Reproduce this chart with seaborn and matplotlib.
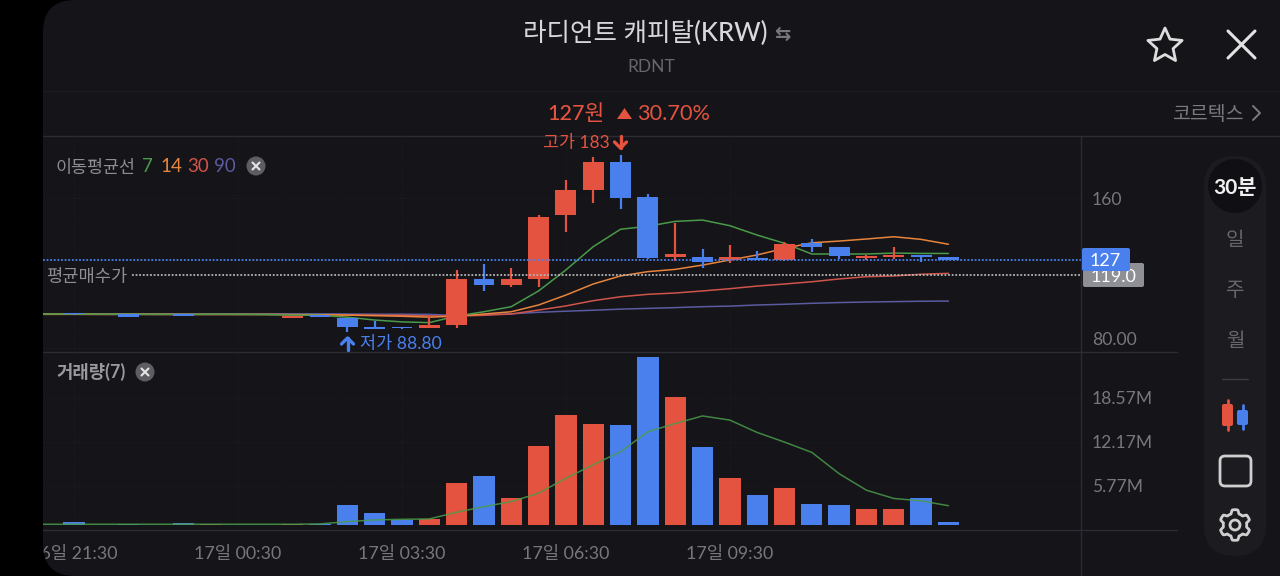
#RDNT 30 min candle chart with moving averages and volume

import numpy as np
import pandas as pd
import seaborn as sns
import matplotlib.pyplot as plt
from matplotlib.patches import Circle, FancyBboxPatch, PathPatch, Polygon
from matplotlib.path import Path

# 30 min bars, bar_no 0 = 16일 21:30, first two sit at the cut off left edge
bar_no = list(range(-2, 33))

opens = [98.2, 98.2, 98.6, 98.1, 98.2, 98.1, 98.3, 98.1, 98.0, 98.0, 96.3, 97.5,
         96.2, 91.1, 91.3, 90.6, 92.3, 116.7, 113.5, 116.7, 151.2, 164.3, 179.4,
         160.4, 128.6, 128.8, 127.0, 128.0, 127.0, 135.9, 133.8, 128.2, 128.8, 129.8, 128.8]
closes = [98.1, 98.1, 98.0, 98.2, 96.8, 98.2, 97.0, 98.3, 98.1, 98.1, 97.0, 96.7,
          91.4, 90.0, 90.5, 92.2, 116.7, 113.5, 116.7, 150.1, 164.3, 179.4, 160.2,
          127.9, 130.0, 125.9, 128.8, 127.0, 135.5, 134.0, 129.0, 129.1, 129.8, 128.8, 126.8]
highs = [98.3, 98.3, 98.7, 98.3, 98.3, 98.3, 98.4, 98.4, 98.2, 98.2, 97.2, 97.6,
         96.3, 94.6, 91.5, 96.8, 121.7, 124.7, 122.9, 151.0, 169.7, 182.0, 183.0,
         162.2, 146.6, 132.9, 135.0, 132.0, 136.8, 138.0, 133.8, 129.7, 134.0, 129.8, 128.8]
lows = [98.0, 98.0, 97.9, 98.0, 96.7, 98.0, 96.9, 98.0, 98.0, 98.0, 96.1, 96.6,
        88.8, 90.0, 90.2, 90.6, 90.6, 110.6, 112.4, 112.8, 142.1, 157.2, 154.4,
        127.5, 126.5, 122.6, 125.2, 126.8, 126.5, 131.4, 127.7, 127.0, 127.7, 125.9, 126.8]

ma7 = [98.2, 98.2, 98.2, 98.1, 98.1, 98.0, 98.0, 98.1, 98.0, 97.9, 97.6, 97.5,
       96.5, 95.0, 94.0, 93.6, 97.1, 99.4, 102.1, 110.5, 121.7, 134.1, 143.4,
       145.0, 147.6, 148.3, 145.3, 140.3, 135.9, 130.2, 130.2, 130.2, 130.7, 130.5, 130.5]
ma14 = [98.2, 98.2, 98.2, 98.1, 98.1, 98.1, 98.0, 98.0, 98.0, 98.0, 97.9, 97.8,
        97.6, 97.3, 97.0, 96.5, 97.1, 98.2, 99.4, 103.0, 108.3, 114.2, 118.5,
        120.8, 122.0, 124.3, 127.0, 129.7, 133.2, 136.2, 137.1, 138.2, 139.4, 138.0, 135.4]
ma30 = [98.0, 98.0, 98.0, 97.9, 97.9, 97.9, 97.9, 97.9, 97.9, 97.9, 97.8, 97.8,
        97.7, 97.6, 97.5, 97.2, 97.1, 97.5, 98.2, 100.3, 102.5, 105.3, 107.4,
        108.7, 109.4, 110.5, 111.7, 113.1, 114.2, 115.4, 116.9, 118.1, 118.5, 119.4, 119.9]
ma90 = [98.3, 98.3, 98.3, 98.3, 98.3, 98.3, 98.3, 98.3, 98.3, 98.3, 98.3, 98.3,
        98.2, 98.1, 98.1, 98.0, 97.4, 97.9, 98.3, 99.1, 99.7, 100.2, 100.8,
        101.2, 101.6, 102.1, 102.4, 103.0, 103.4, 103.9, 104.3, 104.6, 104.8, 105.0, 105.1]

volume = [0.1, 0.1, 0.48, 0.1, 0.12, 0.1, 0.3, 0.12, 0.1, 0.1, 0.15, 0.12,
          2.9, 1.85, 0.78, 0.97, 6.1, 7.2, 4.0, 11.5, 16.05, 14.7, 14.6,
          24.5, 18.6, 11.4, 6.9, 4.4, 5.4, 3.15, 2.95, 2.3, 2.3, 4.0, 0.44]
volume_ma = [0.15, 0.15, 0.15, 0.15, 0.15, 0.15, 0.15, 0.15, 0.15, 0.15, 0.15, 0.2,
             0.53, 0.78, 0.87, 0.92, 1.9, 2.7, 3.45, 4.65, 6.85, 8.8, 10.7,
             13.6, 14.8, 15.9, 15.3, 13.5, 12.1, 10.6, 7.5, 5.1, 3.9, 3.55, 2.85]

time_ticks = [0, 6, 12, 18, 24]
time_labels = ['16일 21:30', '17일 00:30', '17일 03:30', '17일 06:30', '17일 09:30']
price_ticks = [80, 160]
price_labels = ['80.00', '160']
volume_ticks = [5.77, 12.17, 18.57]
volume_labels = ['5.77M', '12.17M', '18.57M']
current_price = 127
average_buy = 119

BG = '#141419'
RED = '#E4533F'
BLUE = '#4A80EE'
GREEN = '#4A9A4A'
ORANGE = '#E8843C'
LINE_RED = '#D0544A'
PURPLE = '#5A5BA0'
EDGE = '#2C2C33'
GRAY = '#77777C'

sns.set_theme(style='dark')
plt.rcParams['font.family'] = ['Lato', 'Noto Sans CJK KR', 'DejaVu Sans']

df = pd.DataFrame({'bar': bar_no, 'open': opens, 'close': closes, 'high': highs, 'low': lows,
                   'volume': volume, 'volume_ma': volume_ma})
# the picture colours rising bars red and falling bars blue
df['side'] = np.where(df['close'] >= df['open'], 'up', 'down')
side_colors = {'up': RED, 'down': BLUE}
ma_df = pd.DataFrame({'bar': bar_no, '90': ma90, '30': ma30, '14': ma14, '7': ma7}).melt('bar', var_name='ma', value_name='price')

W, H = 1280, 576
fig = plt.figure(figsize=(W / 100, H / 100), dpi=100, facecolor=BG)


def px_axes(x0, y0, x1, y1):
    return fig.add_axes([x0 / W, 1 - y1 / H, (x1 - x0) / W, (y1 - y0) / H])


ax = px_axes(43, 136, 1081, 351)
vax = px_axes(43, 352, 1081, 529)
xlim = (-1.134, 36.85)

# price panel
sns.lineplot(data=ma_df, x='bar', y='price', hue='ma', palette={'7': GREEN, '14': ORANGE, '30': LINE_RED, '90': PURPLE},
             hue_order=['90', '30', '14', '7'], errorbar=None, linewidth=1.1, legend=False, ax=ax, zorder=2)
ax.vlines(df['bar'], df['low'], df['high'], colors=df['side'].map(side_colors), linewidth=1.6, zorder=3)
ax.bar(df['bar'], df['close'] - df['open'], bottom=df['open'], width=0.76, color=df['side'].map(side_colors), linewidth=0, zorder=3)
ax.hlines(current_price, xlim[0], xlim[1], colors=BLUE, linewidth=1.3, linestyles=(0, (1, 1)), zorder=4)
ax.hlines(average_buy, 2.12, xlim[1], colors='#B5B5B5', linewidth=1.3, linestyles=(0, (1, 1)), zorder=4)
ax.set_xlim(xlim)
ax.set_ylim(78.47, 193.13)
ax.set_xticks(time_ticks)
ax.set_xticklabels([])
ax.set_yticks(price_ticks)
ax.set_yticklabels(price_labels)
ax.yaxis.tick_right()
ax.get_yticklabels()[0].set_va('bottom')

# volume panel
sns.barplot(data=df, x='bar', y='volume', hue='side', palette=side_colors, native_scale=True, dodge=False,
            width=0.78, saturation=1, errorbar=None, legend=False, linewidth=0, ax=vax, zorder=2)
sns.lineplot(data=df, x='bar', y='volume_ma', color=GREEN, linewidth=1.1, alpha=0.85, errorbar=None, ax=vax, zorder=3)
vax.set_xlim(xlim)
vax.set_ylim(-0.54, 25.2)
vax.set_xticks(time_ticks)
vax.set_xticklabels(time_labels)
vax.set_yticks(volume_ticks)
vax.set_yticklabels(volume_labels)
vax.yaxis.tick_right()

for a in (ax, vax):
    a.set_facecolor(BG)
    a.set_xlabel('')
    a.set_ylabel('')
    a.grid(True, color='#1D1D22', linestyle=':', linewidth=0.8, zorder=0)
    a.set_axisbelow(True)
    for s in a.spines.values():
        s.set_visible(False)
    a.tick_params(axis='y', length=0, pad=8, labelsize=12.6, labelcolor=GRAY)
    a.tick_params(axis='x', length=0, pad=12, labelsize=12.8, labelcolor=GRAY)

# everything around the chart is drawn in screen pixels on one top layer
ui = fig.add_axes([0, 0, 1, 1], facecolor='none', zorder=10)
ui.set_xlim(0, W)
ui.set_ylim(H, 0)
ui.axis('off')

# black strip and rounded screen corners on the left
r = 32
verts = [(0, 0), (43 + r, 0), (43, 0), (43, r), (43, H - r), (43, H), (43 + r, H), (0, H), (0, 0)]
codes = [Path.MOVETO, Path.LINETO, Path.CURVE3, Path.CURVE3, Path.LINETO, Path.CURVE3, Path.CURVE3, Path.LINETO, Path.CLOSEPOLY]
ui.add_patch(PathPatch(Path(verts, codes), facecolor='black', edgecolor='none', zorder=6))

# separators
ui.plot([43, W], [91, 91], color='#1B1B20', lw=1)
ui.plot([43, W], [135.5, 135.5], color=EDGE, lw=1)
ui.plot([43, 1177], [351.5, 351.5], color=EDGE, lw=1)
ui.plot([43, 1177], [529.5, 529.5], color=EDGE, lw=1)
ui.plot([1081, 1081], [136, H], color=EDGE, lw=1)

# header
ui.text(645.5, 33, '라디언트 캐피탈(KRW)', color='#D8D8DA', fontsize=18.4, ha='center', va='center', fontweight='medium')
ui.text(782, 34, '⇆', color='#77777C', fontsize=14, ha='center', va='center', family='DejaVu Sans', fontweight='bold')
ui.text(651, 66.5, 'RDNT', color='#66666B', fontsize=12.5, ha='center', va='center')
ui.text(576, 114, '127원', color=RED, fontsize=15.5, ha='center', va='center', fontweight='medium')
ui.add_patch(Polygon([(617, 119), (632, 119), (624.5, 108)], facecolor=RED, edgecolor='none'))
ui.text(674, 114, '30.70%', color=RED, fontsize=15.7, ha='center', va='center')
ui.text(1208, 114, '코르텍스', color='#7A7A7F', fontsize=14, ha='center', va='center')
ui.plot([1253, 1260, 1253], [106, 113, 120], color='#7A7A7F', lw=1.4)

# star and close icons
ang = np.deg2rad(np.arange(0, 360, 36) - 90)
rad = np.array([18, 8.5] * 5)
ui.add_patch(Polygon(np.c_[1165 + rad * np.cos(ang), 46 + rad * np.sin(ang)], closed=True,
                     facecolor='none', edgecolor='#DDDDDD', lw=2, joinstyle='round'))
ui.plot([1228, 1255], [31, 58], color='#E2E2E2', lw=2.2, solid_capstyle='round')
ui.plot([1228, 1255], [58, 31], color='#E2E2E2', lw=2.2, solid_capstyle='round')


def close_badge(x, y):
    ui.add_patch(Circle((x, y), 9.5, facecolor='#5E5E62', edgecolor='none'))
    ui.plot([x - 3.5, x + 3.5], [y - 3.5, y + 3.5], color='#E5E5E5', lw=1.5)
    ui.plot([x - 3.5, x + 3.5], [y + 3.5, y - 3.5], color='#E5E5E5', lw=1.5)


# indicator legends
ui.text(56, 168, '이동평균선', color='#8E8E92', fontsize=12.5, ha='left', va='center')
ui.text(142, 167, '7', color=GREEN, fontsize=13.5, ha='left', va='center')
ui.text(160, 167, '14', color=ORANGE, fontsize=13.5, ha='left', va='center')
ui.text(187, 167, '30', color=LINE_RED, fontsize=13.5, ha='left', va='center')
ui.text(214, 167, '90', color=PURPLE, fontsize=13.5, ha='left', va='center')
close_badge(256, 166)
ui.text(46, 277, '평균매수가', color='#8E8E92', fontsize=12.7, ha='left', va='center')
ui.text(56, 372, '거래량(7)', color='#9A9A9E', fontsize=12.8, ha='left', va='center', fontweight='bold')
close_badge(145, 372)

# high and low labels
ui.text(576, 143, '고가 183', color=RED, fontsize=12.5, ha='center', va='center')
ui.plot([620.5, 620.5], [136, 148], color=RED, lw=2.4)
ui.plot([614.5, 620.5, 626.5], [142, 148, 142], color=RED, lw=2.4)
ui.text(400.5, 344, '저가 88.80', color=BLUE, fontsize=12.6, ha='center', va='center')
ui.plot([347.5, 347.5], [338, 350], color=BLUE, lw=2.4)
ui.plot([341.5, 347.5, 353.5], [344, 338, 344], color=BLUE, lw=2.4)

# price badges on the axis
ui.add_patch(FancyBboxPatch((1083, 263), 61, 24, boxstyle='round,pad=0,rounding_size=2', facecolor='#8F9095', edgecolor='none'))
ui.text(1113.5, 276.5, '119.0', color='white', fontsize=13, ha='center', va='center')
ui.add_patch(FancyBboxPatch((1082, 248), 48, 23, boxstyle='round,pad=0,rounding_size=2', facecolor=BLUE, edgecolor='none', zorder=3))
ui.text(1105, 261, '127', color='white', fontsize=13, ha='center', va='center', zorder=4)

# side bar
ui.add_patch(FancyBboxPatch((1204, 156), 62, 400, boxstyle='round,pad=0,rounding_size=31', facecolor='#1B1B20', edgecolor='none', zorder=1))
ui.add_patch(Circle((1235, 186), 27, facecolor='#101014', edgecolor='none', zorder=1.5))
ui.text(1235, 187.5, '30분', color='#F0F0F0', fontsize=15, ha='center', va='center', fontweight='bold')
for label, y in zip(['일', '주', '월'], [240.5, 290.5, 341.5]):
    ui.text(1235, y, label, color='#66666B', fontsize=14.5, ha='center', va='center')
ui.plot([1222, 1248], [379, 379], color='#3A3A40', lw=1)
ui.plot([1227.5, 1227.5], [400, 430], color=RED, lw=2)
ui.add_patch(FancyBboxPatch((1222, 404), 11, 22, boxstyle='round,pad=0,rounding_size=2', facecolor=RED, edgecolor='none'))
ui.plot([1242.5, 1242.5], [405, 429], color=BLUE, lw=2)
ui.add_patch(FancyBboxPatch((1237, 410), 11, 15, boxstyle='round,pad=0,rounding_size=2', facecolor=BLUE, edgecolor='none'))
ui.add_patch(FancyBboxPatch((1220, 456), 31, 30, boxstyle='round,pad=0,rounding_size=5', facecolor='none', edgecolor='#CFCFCF', lw=2))

# gear icon
t = np.linspace(0, 2 * np.pi, 180)
gear_r = 13.5 + 1.8 * np.clip(2.2 * np.cos(6 * t), -1, 1)
ui.add_patch(Polygon(np.c_[1235 + gear_r * np.sin(t), 525 + gear_r * np.cos(t)], closed=True,
                     facecolor='none', edgecolor='#CFCFCF', lw=2, joinstyle='round'))
ui.add_patch(Circle((1235, 525), 5, facecolor='none', edgecolor='#CFCFCF', lw=2))

fig.savefig('out.png', dpi=100, facecolor=BG)
plt.close()
